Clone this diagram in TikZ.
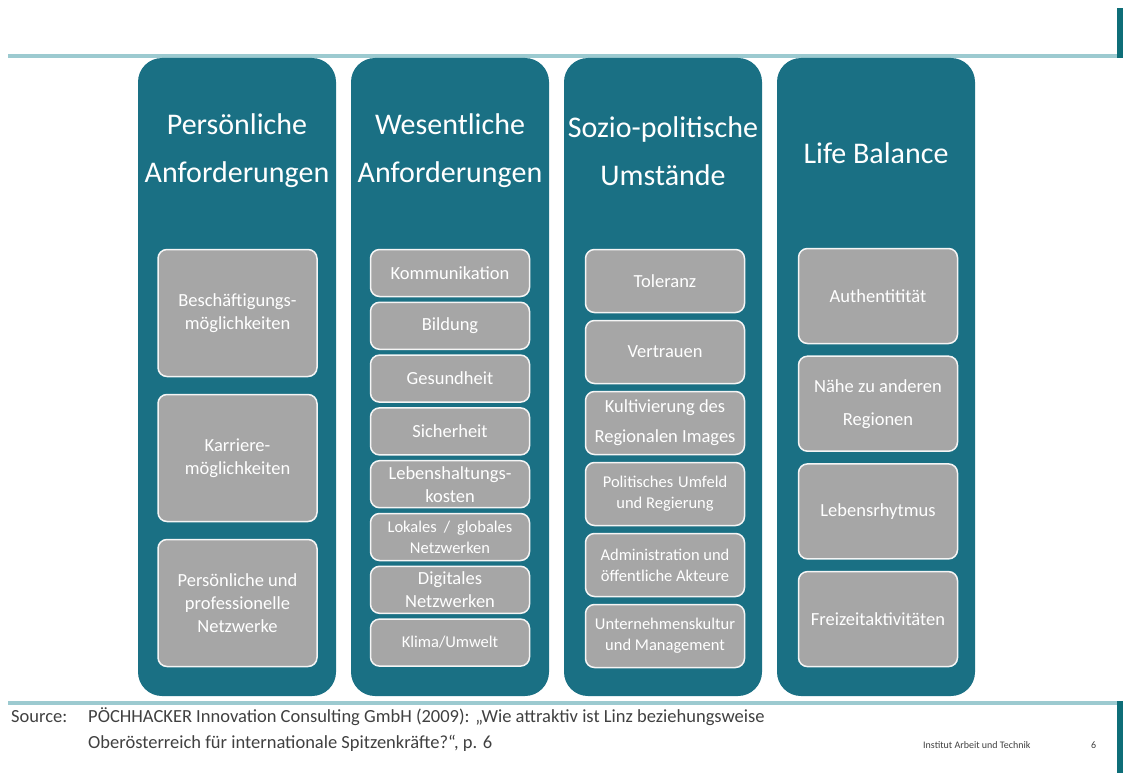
\documentclass[tikz,border=0pt]{standalone}
\usepackage{fontspec}
\setmainfont{Carlito}
\definecolor{colteal}{HTML}{1A7084}
\definecolor{barteal}{HTML}{0E6E78}
\definecolor{lineteal}{HTML}{9CCAD0}
\definecolor{boxgray}{HTML}{A6A6A6}
\definecolor{txtgray}{HTML}{404040}
\tikzset{
  colbox/.style={draw=none, fill=colteal, rounded corners=24pt, inner sep=0pt, outer sep=0pt,
    minimum width=198pt, minimum height=638pt, anchor=north west},
  head/.style={text=white, align=center, inner sep=0pt, font=\fontsize{30}{48}\selectfont},
  item/.style={draw=white!92!gray, line width=1.5pt, fill=boxgray, rounded corners=9pt,
    text=white, align=center, inner sep=1pt, minimum width=159pt,
    font=\fontsize{18.5}{23}\selectfont},
  small/.style={font=\fontsize{16.5}{21}\selectfont},
  foot/.style={text=txtgray, inner sep=0pt, anchor=base west, font=\fontsize{18.5}{22}\selectfont},
}
\begin{document}
\begin{tikzpicture}[x=1pt,y=-1pt]
\useasboundingbox (0,0) rectangle (1123,773);
% frame lines
\draw[lineteal, line width=4pt] (8,56) -- (1118,56);
\draw[lineteal, line width=4pt] (8,703) -- (1118,703);
\fill[barteal] (1117,8) rectangle (1123,58);
\fill[barteal] (1117,701) rectangle (1123,773);
% columns
\node[colbox] (c1) at (138,58) {};
\node[colbox] (c2) at (351,58) {};
\node[colbox] (c3) at (564,58) {};
\node[colbox] (c4) at (777,58) {};
% headers
\node[head] (h1) at (237,151) {Persönliche\\Anforderungen};
\node[head] (h2) at (450,151) {Wesentliche\\Anforderungen};
\node[head] (h3) at (663,151) {Sozio-politische\\Umstände};
\node[head] (h4) at (876,153) {Life Balance};
% column 1
\node[item, minimum height=127pt] (a1) at (237.5,313) {Beschäftigungs-\\möglichkeiten};
\node[item, minimum height=127pt] (a2) at (237.5,458) {Karriere-\\möglichkeiten};
\node[item, minimum height=127pt] (a3) at (237.5,603) {Persönliche und\\professionelle\\Netzwerke};
% column 2
\node[item, minimum height=47pt] (b1) at (450,273) {Kommunikation};
\node[item, minimum height=47pt] (b2) at (450,325.8) {Bildung};
\node[item, minimum height=47pt] (b3) at (450,378.6) {Gesundheit};
\node[item, minimum height=47pt] (b4) at (450,431.4) {Sicherheit};
\node[item, minimum height=47pt] (b5) at (450,484.2) {Lebenshaltungs-\\kosten};
\node[item, small, minimum height=47pt] (b6) at (450,537) {Lokales\hspace{7pt}/\hspace{7pt}globales\\Netzwerken};
\node[item, minimum height=47pt] (b7) at (450,589.8) {Digitales\\Netzwerken};
\node[item, small, minimum height=47pt] (b8) at (450,642.6) {Klima/Umwelt};
% column 3
\node[item, minimum height=63pt] (s1) at (665,281) {Toleranz};
\node[item, minimum height=63pt] (s2) at (665,352) {Vertrauen};
\node[item, minimum height=63pt, font=\fontsize{18.5}{30}\selectfont] (s3) at (665,423) {Kultivierung des\\Regionalen Images};
\node[item, small, minimum height=63pt] (s4) at (665,494) {Politisches\hspace{5pt}Umfeld\\und Regierung};
\node[item, small, minimum height=63pt] (s5) at (665,565) {Administration und\\öffentliche Akteure};
\node[item, small, minimum height=63pt] (s6) at (665,636) {Unternehmenskultur\\und Management};
% column 4
\node[item, minimum height=95pt] (l1) at (878,296) {Authentitität};
\node[item, minimum height=95pt, font=\fontsize{18.5}{33}\selectfont] (l2) at (878,403.7) {Nähe zu anderen\\Regionen};
\node[item, minimum height=95pt] (l3) at (878,511.4) {Lebensrhytmus};
\node[item, minimum height=95pt] (l4) at (878,619.1) {Freizeitaktivitäten};
% footer
\node[foot] (src1) at (11,722) {\makebox[77pt][l]{Source:}PÖCHHACKER Innovation Consulting GmbH (2009): „Wie attraktiv ist Linz beziehungsweise};
\node[foot] (src2) at (88,748) {Oberösterreich für internationale Spitzenkräfte?“, p. 6};
\node[foot, font=\fontsize{10}{12}\selectfont] (inst) at (923,748) {Institut Arbeit und Technik};
\node[foot, font=\fontsize{10}{12}\selectfont] (pg) at (1091,748) {6};
\end{tikzpicture}
\end{document}
